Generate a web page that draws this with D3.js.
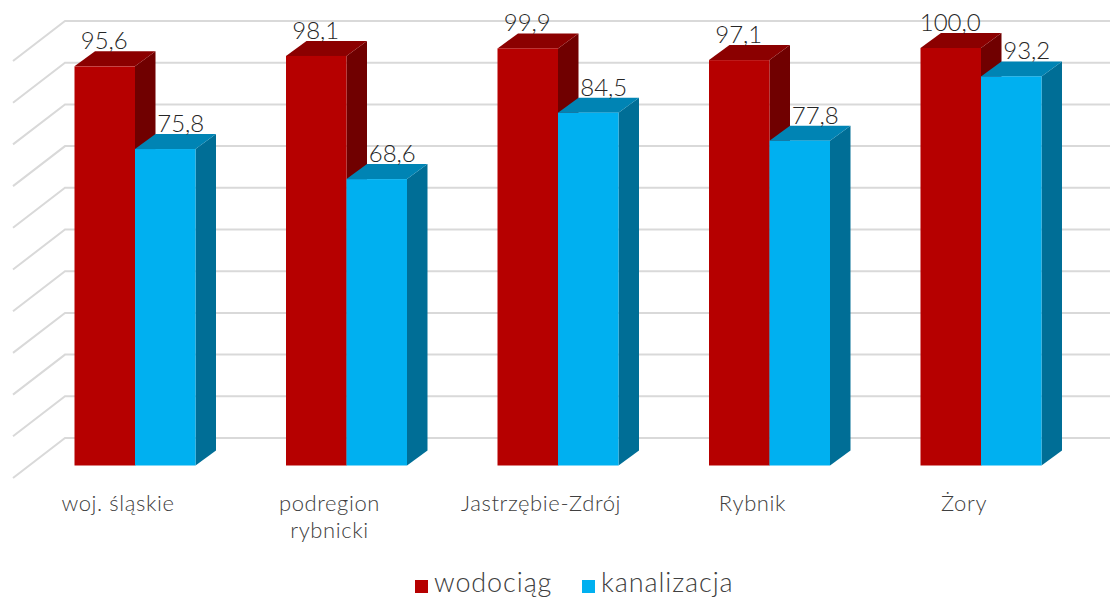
<!DOCTYPE html>
<html><head><meta charset="utf-8">
<script src="https://cdn.jsdelivr.net/npm/d3@7"></script>
<style>html,body{margin:0;padding:0;background:#fff}svg{display:block}text{font-family:Lato,sans-serif}</style>
</head><body><svg id="c" width="1110" height="598"></svg>
<script>
const categories = ["woj. śląskie", "podregion rybnicki", "Jastrzębie-Zdrój", "Rybnik", "Żory"];
const categoryLines = [["woj. śląskie"], ["podregion", "rybnicki"], ["Jastrzębie-Zdrój"], ["Rybnik"], ["Żory"]];
const seriesNames = ["wodociąg", "kanalizacja"];
const wodociag = [95.6, 98.1, 99.9, 97.1, 100.0];
const kanalizacja = [75.8, 68.6, 84.5, 77.8, 93.2];
const gridTicks = [0, 10, 20, 30, 40, 50, 60, 70, 80, 90, 100];
const faces = {
  "wodociąg": {front: "#b60000", top: "#8b0000", side: "#700000"},
  "kanalizacja": {front: "#00b0f0", top: "#0084b4", side: "#006e96"}
};

const svg = d3.select("#c");
const x0 = d3.scaleBand().domain(categories).range([29.25, 1086.75]);
const x1 = d3.scaleBand().domain(seriesNames).range([45.25, 166.25]);
const y = d3.scaleLinear().domain([0, 100]).range([465.5, 48]);
const yWall = d3.scaleLinear().domain([0, 100]).range([438, 21]);
const wallX = 65, leftX = 13, floorDy = 40, dx = 20.5, dy = -15, gridRight = 1110;

const grid = svg.append("g").attr("stroke", "#d9d9d9").attr("stroke-width", 2).attr("fill", "none");
grid.selectAll("path").data(gridTicks).join("path")
  .attr("d", t => d3.line()([[leftX, yWall(t) + floorDy], [wallX, yWall(t)], [gridRight, yWall(t)]]));

const groups = svg.append("g").selectAll("g").data(categories).join("g")
  .attr("transform", c => `translate(${x0(c)},0)`);
const rows = [wodociag, kanalizacja];
seriesNames.forEach((name, si) => {
  const b = groups.append("g");
  const L = (c) => x1(name);
  const R = (c) => x1(name) + x1.bandwidth();
  const T = (c, i) => y(rows[si][i]);
  const B = y(0);
  b.append("path").attr("fill", faces[name].side)
    .attr("d", (c, i) => d3.line()([[R(c), T(c, i)], [R(c) + dx, T(c, i) + dy], [R(c) + dx, B + dy], [R(c), B]]) + "Z");
  b.append("path").attr("fill", faces[name].top)
    .attr("d", (c, i) => d3.line()([[L(c), T(c, i)], [L(c) + dx, T(c, i) + dy], [R(c) + dx, T(c, i) + dy], [R(c), T(c, i)]]) + "Z");
  b.append("rect").attr("fill", faces[name].front)
    .attr("x", L).attr("width", x1.bandwidth())
    .attr("y", T).attr("height", (c, i) => B - T(c, i));
});
// value labels on top of all the bars
seriesNames.forEach((name, si) => {
  groups.append("text")
    .attr("x", x1(name) + x1.bandwidth() / 2 + (si ? 15.5 : -0.5))
    .attr("y", (c, i) => y(rows[si][i]) - 17)
    .attr("text-anchor", "middle")
    .attr("font-size", 24).attr("font-weight", 300).attr("fill", "#262626")
    .text((c, i) => rows[si][i].toFixed(1).replace(".", ","));
});
// category labels
groups.append("text")
  .attr("text-anchor", "middle").attr("font-size", 22).attr("font-weight", 300).attr("letter-spacing", 0.6).attr("fill", "#404040")
  .selectAll("tspan").data((c, i) => categoryLines[i]).join("tspan")
  .attr("x", x0.bandwidth() / 2 - 17)
  .attr("y", (d, i) => 511 + i * 27)
  .text(d => d);
// legend
const legendX = d3.scaleOrdinal().domain(seriesNames).range([415, 582]);
const lg = svg.append("g").selectAll("g").data(seriesNames).join("g")
  .attr("transform", d => `translate(${legendX(d)},0)`);
lg.append("rect").attr("y", 580).attr("width", 13).attr("height", 13).attr("fill", d => faces[d].front);
lg.append("text").attr("x", 19).attr("y", 591.5).attr("font-size", 27).attr("font-weight", 300).attr("letter-spacing", 0.9).attr("fill", "#404040").text(d => d);
</script></body></html>
